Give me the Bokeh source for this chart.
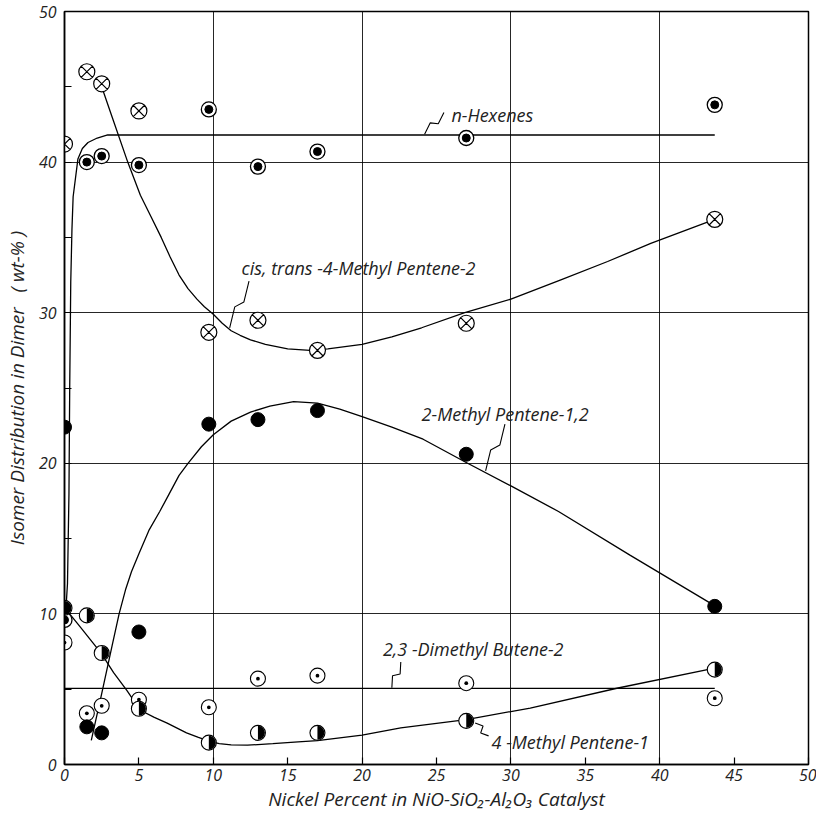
import numpy as np
from bokeh.plotting import figure
from bokeh.models import FixedTicker, Range1d
from bokeh.core.properties import value
from bokeh.embed import file_html
from bokeh.resources import INLINE

# ---------------- data ----------------
nickel = [0.0, 1.5, 2.5, 5.0, 9.7, 13.0, 17.0, 27.0, 43.7]
n_hexenes = [9.6, 40.0, 40.4, 39.8, 43.5, 39.7, 40.7, 41.6, 43.8]
mp2_cis_trans = [41.2, 46.0, 45.2, 43.4, 28.7, 29.5, 27.5, 29.3, 36.2]
mp2_12 = [22.4, 2.5, 2.1, 8.8, 22.6, 22.9, 23.5, 20.6, 10.5]
dmb23 = [8.1, 3.4, 3.9, 4.3, 3.8, 5.7, 5.9, 5.4, 4.4]
mp4_1 = [10.4, 9.9, 7.4, 3.7, 1.45, 2.1, 2.1, 2.9, 6.3]
dmb23_extra_x = [-0.1]
dmb23_extra_y = [10.3]

# hand-drawn curves
hex_curve_x = [0.05, 0.2, 0.3, 0.35, 0.42, 0.5, 0.58, 0.9, 1.2, 1.58, 2.2, 2.9, 43.7]
hex_curve_y = [9.6, 12.0, 18.0, 25.0, 32.0, 35.5, 37.7, 40.2, 40.9, 41.3, 41.6, 41.8, 41.8]

ct_curve_x = [2.5, 3.2, 4.25, 5.1, 5.8, 6.5, 7.1, 7.7, 8.3, 8.9, 9.4, 10.0, 10.6, 11.2, 11.8,
              12.5, 13.5, 15.0, 16.5, 17.7, 20.0, 22.0, 24.0, 26.9, 30.0, 33.4, 36.5, 39.4, 43.7]
ct_curve_y = [45.0, 43.0, 40.0, 37.8, 36.4, 35.0, 33.7, 32.5, 31.6, 30.9, 30.4, 29.9, 29.3, 28.8, 28.5,
              28.2, 27.9, 27.6, 27.5, 27.6, 27.9, 28.4, 29.0, 30.0, 30.9, 32.2, 33.4, 34.6, 36.2]

mp_curve_x = [1.8, 2.5, 3.2, 3.67, 4.1, 4.5, 5.0, 5.7, 6.4, 7.0, 7.7, 8.3, 9.2, 10.0, 11.2, 12.5,
              13.8, 15.4, 17.0, 18.5, 20.0, 22.0, 24.1, 26.9, 30.0, 33.2, 38.0, 43.6]
mp_curve_y = [1.6, 4.7, 7.9, 10.0, 11.6, 12.8, 14.0, 15.6, 16.8, 17.9, 19.2, 20.0, 21.1, 21.9, 22.8, 23.4,
              23.8, 24.1, 24.0, 23.6, 23.1, 22.4, 21.6, 20.1, 18.5, 16.8, 13.9, 10.6]

m41_curve_x = [0.1, 1.0, 2.46, 3.3, 4.2, 5.1, 6.0, 6.9, 8.2, 9.0, 9.76, 10.4, 11.2, 12.3, 14.0,
               15.7, 17.0, 20.0, 22.6, 27.0, 31.3, 37.2, 43.7]
m41_curve_y = [10.3, 9.2, 7.4, 6.1, 4.9, 3.6, 3.15, 2.75, 2.1, 1.8, 1.53, 1.38, 1.3, 1.28, 1.38,
               1.5, 1.59, 1.95, 2.43, 2.98, 3.75, 5.08, 6.4]

dmb_line_x = [0.0, 43.7]
dmb_line_y = [5.05, 5.05]

x_ticks = list(range(0, 51, 5))
y_ticks = list(range(0, 51, 5))
grid_ticks = [10, 20, 30, 40]

labels = ["n-Hexenes", "cis, trans -4-Methyl Pentene-2", "2-Methyl Pentene-1,2",
          "2,3 -Dimethyl Butene-2", "4 -Methyl Pentene-1"]
label_x = [26.0, 11.9, 24.0, 21.4, 28.7]
label_y = [43.1, 32.95, 23.25, 7.65, 1.5]
leader_start = [(25.5, 43.3), (12.4, 32.1), (29.6, 22.6), (22.6, 6.8), (28.5, 1.9)]
leader_end = [(24.2, 41.85), (11.1, 29.0), (28.3, 19.5), (22.0, 5.1), (27.6, 2.75)]

FONT = "Open Sans"

# ---------------- figure ----------------
p = figure(width=816, height=814, output_backend="svg", toolbar_location=None,
           x_range=Range1d(0, 50), y_range=Range1d(0, 50),
           min_border_left=55, min_border_right=8, min_border_top=11, min_border_bottom=47)
p.background_fill_color = "white"
p.border_fill_color = "white"
p.outline_line_color = "black"
p.outline_line_width = 1.5

for ax in (p.xaxis[0], p.yaxis[0]):
    ax.major_tick_in = 7
    ax.major_tick_out = 0
    ax.minor_tick_line_color = None
    ax.axis_line_color = "black"
    ax.axis_line_width = 1.5
    ax.major_tick_line_color = "black"
    ax.major_tick_line_width = 1.2
    ax.major_label_text_font = FONT
    ax.major_label_text_font_style = "italic"
    ax.major_label_text_font_size = "16px"
    ax.major_label_text_color = "#222222"
    ax.axis_label_text_font = FONT
    ax.axis_label_text_font_style = "italic"
    ax.axis_label_text_font_size = "19px"
    ax.axis_label_text_color = "#222222"

p.xaxis[0].ticker = FixedTicker(ticks=x_ticks)
p.yaxis[0].ticker = FixedTicker(ticks=y_ticks)
p.yaxis[0].major_label_overrides = {t: "" for t in y_ticks if t % 10 != 0}
p.xaxis[0].major_label_standoff = 4
p.yaxis[0].major_label_standoff = 8
p.xaxis[0].axis_label = "Nickel Percent in NiO-SiO\u2082-Al\u2082O\u2083 Catalyst"
p.yaxis[0].axis_label = "Isomer Distribution in Dimer\u00a0\u00a0\u00a0(\u00a0wt-%\u00a0)"
p.xaxis[0].axis_label_standoff = 2
p.yaxis[0].axis_label_standoff = 6

p.xgrid[0].ticker = FixedTicker(ticks=grid_ticks)
p.ygrid[0].ticker = FixedTicker(ticks=grid_ticks)
for g in (p.xgrid[0], p.ygrid[0]):
    g.grid_line_color = "black"
    g.grid_line_width = 1
    g.grid_line_alpha = 0.85

# ---------------- curves ----------------
lw = 1.3
p.line(hex_curve_x, hex_curve_y, line_color="black", line_width=lw)
p.line(ct_curve_x, ct_curve_y, line_color="black", line_width=lw)
p.line(mp_curve_x, mp_curve_y, line_color="black", line_width=lw)
p.line(m41_curve_x, m41_curve_y, line_color="black", line_width=lw)
p.line(dmb_line_x, dmb_line_y, line_color="black", line_width=lw)

# leaders (lightning shaped)
def zig(s, e):
    sx, sy = s
    ex, ey = e
    dx, dy = ex - sx, ey - sy
    L = np.hypot(dx, dy)
    px_, py_ = -dy / L * 0.22, dx / L * 0.22
    return ([sx, sx + 0.42 * dx + px_, sx + 0.58 * dx - px_, ex],
            [sy, sy + 0.42 * dy + py_, sy + 0.58 * dy - py_, ey])

xs, ys = [], []
for s, e in zip(leader_start, leader_end):
    a, b = zig(s, e)
    xs.append(a)
    ys.append(b)
p.multi_line(xs, ys, line_color="black", line_width=1.1)

# ---------------- markers ----------------
# 2,3-Dimethyl Butene-2: open circle with dot
p.scatter(dmb23_extra_x, dmb23_extra_y, marker="circle_dot", size=15,
          fill_color="white", line_color="black", line_width=1.1)
p.scatter(nickel, dmb23, marker="circle_dot", size=15,
          fill_color="white", line_color="black", line_width=1.1)
# n-Hexenes: bullseye
p.scatter(nickel, n_hexenes, marker="circle", size=15,
          fill_color="white", line_color="black", line_width=1.3)
p.scatter(nickel, n_hexenes, marker="circle", size=8,
          fill_color="black", line_color="black")
# cis,trans-4-Methyl Pentene-2: circle with X
p.scatter(nickel, mp2_cis_trans, marker="circle_x", size=16,
          fill_color="white", line_color="black", line_width=1.2)
# 2-Methyl Pentene-1,2: filled circle
p.scatter(nickel, mp2_12, marker="circle", size=14,
          fill_color="black", line_color="black")
# 4-Methyl Pentene-1: half-filled circle
p.scatter(nickel, mp4_1, marker="circle", size=15,
          fill_color="white", line_color="black", line_width=1.1)
p.wedge(x=nickel, y=mp4_1, radius=7, radius_units="screen",
        start_angle=-np.pi / 2, end_angle=np.pi / 2,
        fill_color="black", line_color=None)

# ---------------- labels ----------------
p.text(x=label_x, y=label_y, text=labels, text_font=value(FONT),
       text_font_style="italic", text_font_size="18px", text_color="#222222",
       text_baseline="middle", text_align="left")

open("out.html", "w").write(file_html(p, INLINE))
